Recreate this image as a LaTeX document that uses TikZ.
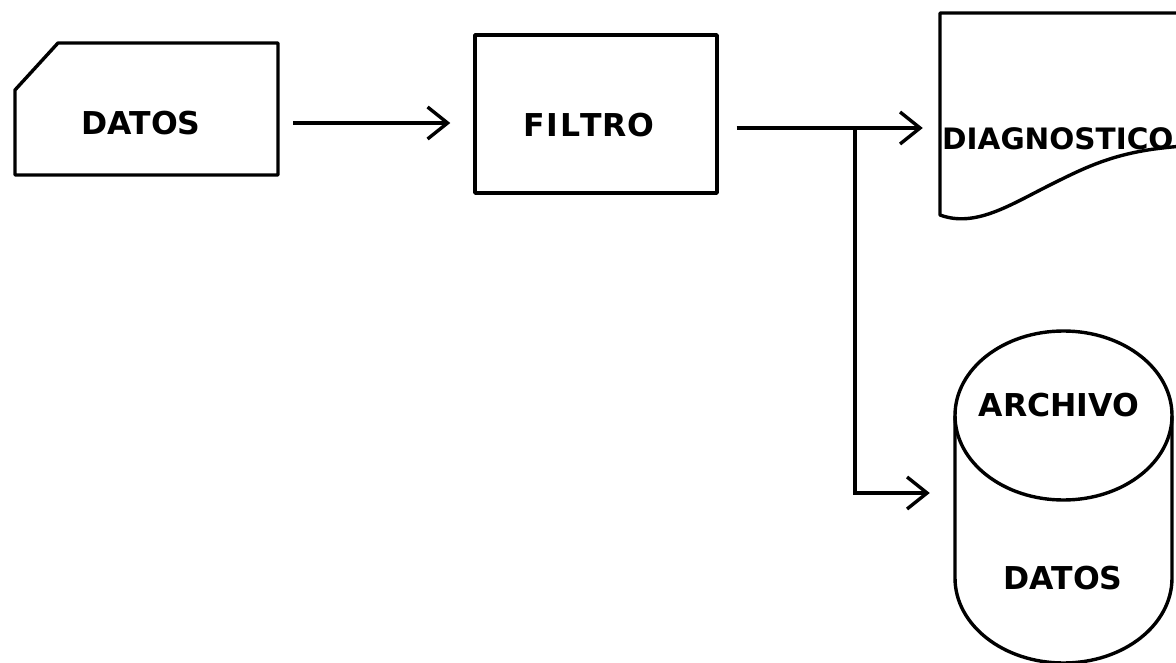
\documentclass[tikz,border=0pt]{standalone}
\usepackage{fontspec}
\setmainfont{DejaVu Sans}
\usetikzlibrary{arrows.meta}
\tikzset{
  shp/.style={draw=black, line width=3.4pt, line join=round},
  ghost/.style={draw=none, inner sep=0pt},
  lbl/.style={font=\fontsize{31.5}{36}\selectfont\bfseries, inner sep=0pt},
  arr/.style={draw=black, line width=3.4pt, -{Straight Barb[length=20pt,width=32pt,line width=3.4pt]}},
  ln/.style={draw=black, line width=3.4pt}
}
\begin{document}
\begin{tikzpicture}[x=1pt,y=-1pt]
\useasboundingbox (0,0) rectangle (1176,663);
\clip (0,0) rectangle (1176,663);
\fill[white] (0,0) rectangle (1176,663);
% DATOS card
\node[ghost, minimum width=263pt, minimum height=132pt] (datos) at (146.5,109) {};
\draw[shp] (58,43) -- (278,43) -- (278,175) -- (15,175) -- (15,90) -- cycle;
\node[lbl] (datosl) at (141,123) {DATOS};
% FILTRO box
\node[shp, minimum width=242pt, minimum height=158pt] (filtro) at (596,114) {};
\node[lbl] (filtrol) at (589,125) {F\kern1.5ptI\kern1.5ptL\kern0.5ptT\kern0.5ptR\kern0.5ptO};
% DIAGNOSTICO document
\node[ghost, minimum width=240pt, minimum height=202pt] (diag) at (1060,114) {};
\draw[shp] (1185,13) -- (940,13) -- (940,215)
  .. controls (975,228) and (1010,205) .. (1050,185)
  .. controls (1090,165) and (1120,150) .. (1185,146);
\node[lbl, anchor=west, font=\fontsize{29.5}{34}\selectfont\bfseries] (diagl) at (942,139) {DIAGNOSTICO};
% ARCHIVO DATOS cylinder
\node[ghost, minimum width=217pt, minimum height=332pt] (arch) at (1063.5,497) {};
\draw[shp] (1063.5,415.5) ellipse [x radius=108.5, y radius=84.5];
\draw[shp] (955,415.5) -- (955,578)
  .. controls (955,625) and (1003.5,663) .. (1063.5,663)
  .. controls (1123.5,663) and (1172,625) .. (1172,578) -- (1172,415.5);
\node[lbl] (archl) at (1059,405) {ARCHIVO};
\node[lbl] (datos2l) at (1063,578) {DATOS};
% connectors
\draw[arr, shorten <=15pt, shorten >=23pt] ([yshift=-14pt]datos.east) -- ([yshift=-9pt]filtro.west);
\draw[arr, shorten <=18pt, shorten >=17pt] ([yshift=-14pt]filtro.east) -- ([yshift=-14pt]diag.west);
\coordinate (j) at (855,128);
\draw[arr, shorten >=25pt] (j) |- ([yshift=4pt]arch.west);
\end{tikzpicture}
\end{document}
